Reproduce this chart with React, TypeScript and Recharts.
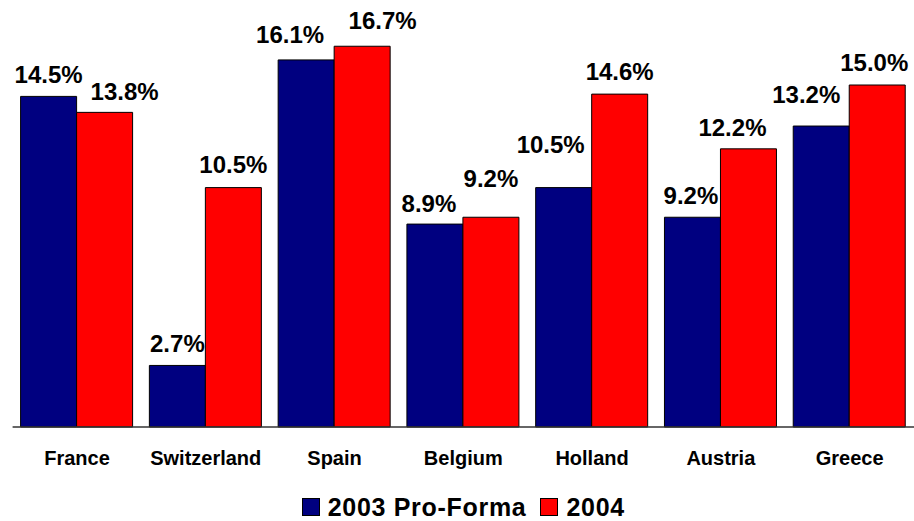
import * as React from "react";
import { Bar, BarChart, LabelList, Legend, XAxis, YAxis } from "recharts";

const countries = ["France", "Switzerland", "Spain", "Belgium", "Holland", "Austria", "Greece"];
const proForma2003 = [14.5, 2.7, 16.1, 8.9, 10.5, 9.2, 13.2];
const actual2004 = [13.8, 10.5, 16.7, 9.2, 14.6, 12.2, 15.0];

// hand-placed value labels: horizontal shift and gap above the bar top, in px
const shift2003 = [0, 0, -16, -6, -13, -1.5, -15];
const gap2003 = [13.4, 13.3, 17, 11.7, 35, 13.3, 22.7];
const shift2004 = [20, 0, 20.5, 0, 0, -16, -3];
const gap2004 = [12.3, 14.3, 17.4, 30.6, 14.3, 13, 14.3];

const FONT = "Arial, 'Liberation Sans', sans-serif";
const NAVY = "#000080";
const RED = "#FF0000";
const LEGEND_H = 27;

const data = countries.map((country, i) => ({
  country,
  proForma: proForma2003[i],
  y2004: actual2004[i],
}));

function makeValueLabel(shift: number[], gap: number[]) {
  return function ValueLabel(props: any) {
    const { x, y, width, value, index } = props;
    return (
      <text
        x={Number(x) + Number(width) / 2 + (shift[index] ?? 0)}
        y={Number(y) - (gap[index] ?? 13)}
        textAnchor="middle"
        fontFamily={FONT}
        fontSize={24}
        fontWeight={700}
        fill="#000"
      >
        {`${Number(value).toFixed(1)}%`}
      </text>
    );
  };
}

const Label2003 = makeValueLabel(shift2003, gap2003);
const Label2004 = makeValueLabel(shift2004, gap2004);

type LegendEntry = { value?: string; color?: string };

function SquareLegend({ payload }: { payload?: LegendEntry[] }) {
  return (
    <div
      style={{
        display: "flex",
        justifyContent: "center",
        alignItems: "flex-start",
        height: LEGEND_H,
        fontFamily: FONT,
        fontWeight: 700,
        fontSize: 25,
        letterSpacing: 0.7,
        color: "#000",
      }}
    >
      {(payload ?? []).map((entry, i) => (
        <div
          key={entry.value}
          style={{ display: "flex", alignItems: "center", height: 26, marginLeft: i === 0 ? 0 : 14 }}
        >
          <span
            style={{
              display: "inline-block",
              width: 16,
              height: 16,
              background: entry.color,
              border: "1px solid #000",
              marginRight: 8,
            }}
          />
          <span style={{ lineHeight: "26px" }}>{entry.value}</span>
        </div>
      ))}
    </div>
  );
}

export default function App() {
  return (
    <div style={{ position: "absolute", top: 0, left: 0, width: 914, height: 521, background: "#fff" }}>
      <BarChart
        width={914}
        height={521}
        data={data}
        margin={{ top: 16.6, right: 0, left: 12.6, bottom: 0 }}
        barCategoryGap={8}
        barGap={0}
      >
        <XAxis
          dataKey="country"
          height={521 - LEGEND_H - 427}
          tickLine={false}
          tickMargin={18}
          axisLine={{ stroke: "#333", strokeWidth: 1.5 }}
          tick={{ fontSize: 20, fontWeight: 700, fill: "#000", fontFamily: FONT }}
          interval={0}
        />
        <YAxis hide domain={[0, 18]} />
        <Legend verticalAlign="bottom" align="center" content={<SquareLegend />} />
        <Bar
          dataKey="proForma"
          name="2003 Pro-Forma"
          fill={NAVY}
          stroke="#000"
          strokeWidth={1}
          isAnimationActive={false}
        >
          <LabelList dataKey="proForma" content={Label2003} />
        </Bar>
        <Bar
          dataKey="y2004"
          name="2004"
          fill={RED}
          stroke="#000"
          strokeWidth={1}
          isAnimationActive={false}
        >
          <LabelList dataKey="y2004" content={Label2004} />
        </Bar>
      </BarChart>
    </div>
  );
}
